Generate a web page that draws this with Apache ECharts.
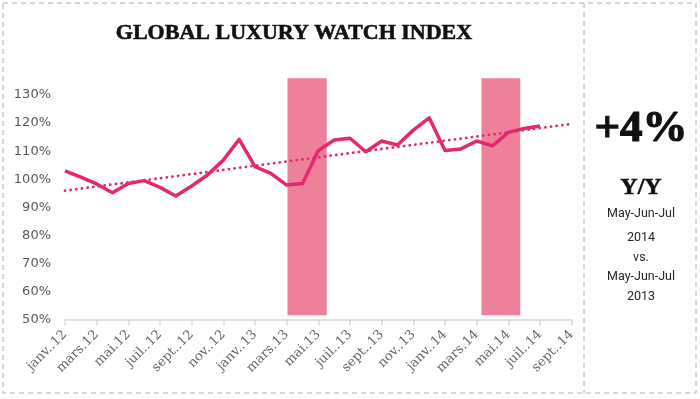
<!DOCTYPE html>
<html><head><meta charset="utf-8">
<script src="https://cdn.jsdelivr.net/npm/echarts@6/dist/echarts.min.js"></script>
<style>html,body{margin:0;padding:0;background:#fff}#c{width:700px;height:399px}</style>
</head><body><div id="c"></div>
<script>
// month index 0 = janv.12
const tickLabels = ["janv..12","mars.12","mai.12","juil..12","sept..12","nov..12","janv..13","mars.13","mai.13","juil..13","sept..13","nov..13","janv..14","mars.14","mai.14","juil..14","sept..14"];
const indexValues = [103.0,100.7,98.3,95.2,98.5,99.5,97.1,94.0,97.6,101.5,106.8,114.2,104.5,102.1,97.9,98.5,110.2,114.0,114.6,109.8,113.6,112.2,117.5,121.9,110.2,110.8,113.6,111.9,116.7,118.1,119.0];
const trendPoints = [[0, 95.9], [32, 119.7]];
const bandStarts = [14.05, 26.3];
const bandEnds = [16.53, 28.75];
const bandBottom = 51.5, bandTop = 136;
const yTicks = [50,60,70,80,90,100,110,120,130];

const lineData = indexValues.map((v,i)=>[i,v]);
const bands = bandStarts.map((s,i)=>[{coord:[s,bandBottom]},{coord:[bandEnds[i],bandTop]}]);

const chart = echarts.init(document.getElementById('c'), null, {renderer:'canvas'});
const pink = '#e2286f';
chart.setOption({
  animation:false,
  grid:{left:65,right:128.3,top:78.2,bottom:79.5,containLabel:false},
  xAxis:{type:'value',min:0,max:32,interval:2,
    axisLine:{lineStyle:{color:'#d9d9d9',width:1.5}},
    axisTick:{show:true,length:6,lineStyle:{color:'#d9d9d9',width:1.5}},
    splitLine:{show:false},
    axisLabel:{rotate:45,margin:13,color:'#666666',fontFamily:'DejaVu Serif',fontSize:13,
      formatter:v=>tickLabels[Math.round(v/2)]||''}},
  yAxis:{type:'value',min:50,max:bandTop,interval:10,
    axisLine:{show:false},axisTick:{show:false},splitLine:{show:false},
    axisLabel:{margin:14,color:'#595959',fontFamily:'DejaVu Sans',fontSize:13,
      formatter:v=>yTicks.indexOf(v)>=0?v+'%':''}},
  series:[
    {type:'line',data:lineData,symbol:'none',z:2,lineStyle:{color:pink,width:3.5,join:'round'}},
    {type:'line',data:trendPoints,symbol:'none',z:2,lineStyle:{color:pink,width:2.8,type:[0.1,5.6],cap:'round'}},
    {type:'line',data:[],z:5,markArea:{silent:true,itemStyle:{color:'rgba(230,70,105,0.68)'},data:bands}}
  ],
  graphic:[
    {type:'rect',shape:{x:3,y:3,width:693,height:390},style:{fill:'none',stroke:'#b0b0b0',lineWidth:1,lineDash:[5,4]}},
    {type:'line',shape:{x1:584,y1:3,x2:584,y2:393},style:{stroke:'#b0b0b0',lineWidth:1,lineDash:[5,4]}},
    {type:'text',x:294,y:33,style:{text:'GLOBAL LUXURY WATCH INDEX',fontFamily:'Liberation Serif',fontWeight:'bold',fontSize:22,fill:'#111',stroke:'#111',lineWidth:0.6,align:'center',verticalAlign:'middle'}},
    {type:'text',x:641,y:129,style:{text:'+4%',fontFamily:'Liberation Serif',fontWeight:'bold',fontSize:45,fill:'#111',stroke:'#111',lineWidth:1.2,align:'center',verticalAlign:'middle'}},
    {type:'text',x:641,y:188,style:{text:'Y/Y',fontFamily:'Liberation Serif',fontWeight:'bold',fontSize:24,fill:'#111',stroke:'#111',lineWidth:0.6,align:'center',verticalAlign:'middle'}},
    {type:'text',x:641,y:214,style:{text:'May-Jun-Jul',fontFamily:'Roboto',fontSize:12.5,fill:'#262626',align:'center',verticalAlign:'middle'}},
    {type:'text',x:641,y:238,style:{text:'2014',fontFamily:'Roboto',fontSize:12.5,fill:'#262626',align:'center',verticalAlign:'middle'}},
    {type:'text',x:641,y:258,style:{text:'vs.',fontFamily:'Roboto',fontSize:12.5,fill:'#262626',align:'center',verticalAlign:'middle'}},
    {type:'text',x:641,y:277,style:{text:'May-Jun-Jul',fontFamily:'Roboto',fontSize:12.5,fill:'#262626',align:'center',verticalAlign:'middle'}},
    {type:'text',x:641,y:297,style:{text:'2013',fontFamily:'Roboto',fontSize:12.5,fill:'#262626',align:'center',verticalAlign:'middle'}}
  ]
});
</script></body></html>
